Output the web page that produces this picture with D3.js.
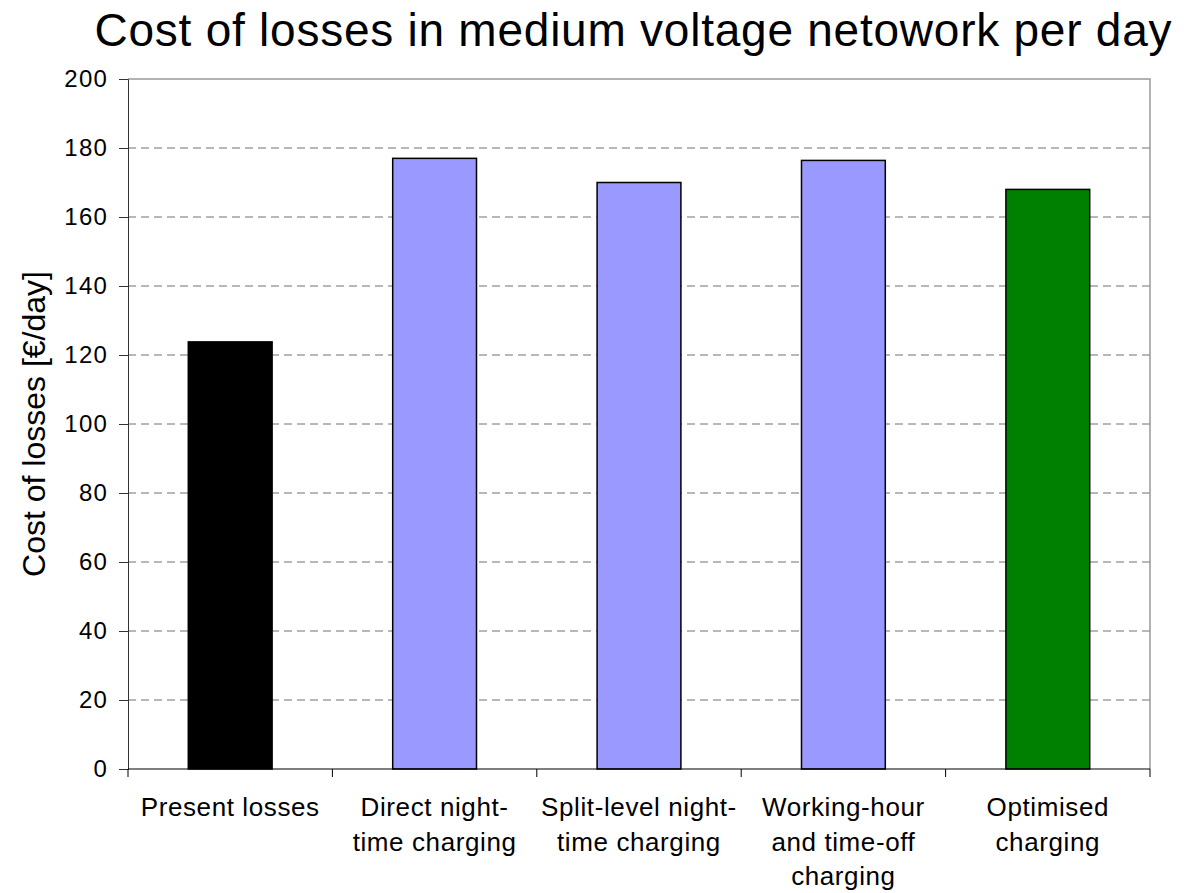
<!DOCTYPE html>
<html>
<head>
<meta charset="utf-8">
<script src="https://cdn.jsdelivr.net/npm/d3@7"></script>
<style>
  body { margin: 0; background: #fff; }
  svg { display: block; }
</style>
</head>
<body>
<div id="chart"></div>
<script>
// data
let categories = [
  ["Present losses"],
  ["Direct night-", "time charging"],
  ["Split-level night-", "time charging"],
  ["Working-hour", "and time-off", "charging"],
  ["Optimised", "charging"]
]
let costs = [123.8, 177.0, 170.0, 176.4, 168.0]
let barColors = ["#000000", "#9999ff", "#9999ff", "#9999ff", "#008000"]
let yTicks = [0, 20, 40, 60, 80, 100, 120, 140, 160, 180, 200]

let width = 1193
let height = 893
let plotLeft = 128, plotRight = 1150, plotTop = 79, plotBottom = 769

let svg = d3.select("#chart")
  .append("svg")
  .attr("width", width)
  .attr("height", height)

let xScale = d3.scaleBand()
  .domain(d3.range(categories.length))
  .range([plotLeft, plotRight])
  .paddingInner(0.59)
  .paddingOuter(0.295)

let yScale = d3.scaleLinear()
  .domain([0, 200])
  .range([plotBottom, plotTop])

// gridlines
svg.append("g")
  .selectAll("line")
  .data(yTicks.filter(d => d > 0 && d < 200))
  .enter()
  .append("line")
  .attr("x1", plotLeft)
  .attr("x2", plotRight)
  .attr("y1", d => yScale(d))
  .attr("y2", d => yScale(d))
  .attr("stroke", "#707070")
  .attr("stroke-width", 1)
  .attr("stroke-dasharray", "8,5")

// top + right border
svg.append("path")
  .attr("d", `M${plotLeft},${plotTop}H${plotRight}V${plotBottom}`)
  .attr("fill", "none")
  .attr("stroke", "#999")
  .attr("stroke-width", 1.5)

// bars
svg.append("g")
  .selectAll("rect")
  .data(costs)
  .enter()
  .append("rect")
  .attr("x", (d, i) => xScale(i))
  .attr("y", d => yScale(d))
  .attr("width", xScale.bandwidth())
  .attr("height", d => yScale(0) - yScale(d))
  .attr("fill", (d, i) => barColors[i])
  .attr("stroke", "#000")
  .attr("stroke-width", 1.5)

// y axis
let yAxis = d3.axisLeft(yScale)
  .tickValues(yTicks)
  .tickSize(9)
  .tickPadding(11)

let yg = svg.append("g")
  .attr("transform", `translate(${plotLeft},0)`)
  .call(yAxis)
yg.select(".domain").attr("stroke", "#333")
yg.selectAll(".tick line").attr("stroke", "#333")
yg.selectAll("text")
  .attr("font-family", "'Liberation Sans', Arial, sans-serif")
  .attr("font-size", 24)
  .attr("letter-spacing", 1.2)
  .attr("fill", "#000")

// x axis: ticks sit on the category boundaries
let boundaries = d3.range(categories.length + 1).map(i => plotLeft + i * xScale.step())
let xg = svg.append("g")
xg.append("line")
  .attr("x1", plotLeft).attr("x2", plotRight)
  .attr("y1", plotBottom).attr("y2", plotBottom)
  .attr("stroke", "#000")
  .attr("stroke-width", 1.2)
xg.selectAll(".xtick")
  .data(boundaries)
  .enter()
  .append("line")
  .attr("class", "xtick")
  .attr("x1", d => d).attr("x2", d => d)
  .attr("y1", plotBottom).attr("y2", plotBottom + 8)
  .attr("stroke", "#000")

let labels = xg.selectAll(".xlabel")
  .data(categories)
  .enter()
  .append("text")
  .attr("class", "xlabel")
  .attr("text-anchor", "middle")
  .attr("font-family", "'Liberation Sans', Arial, sans-serif")
  .attr("font-size", 26)
  .attr("letter-spacing", 0.6)
  .attr("fill", "#000")

labels.selectAll("tspan")
  .data((d, i) => d.map(line => ({line: line, i: i})))
  .enter()
  .append("tspan")
  .attr("x", d => xScale(d.i) + xScale.bandwidth() / 2)
  .attr("y", (d, j) => 816 + j * 34.5)
  .text(d => d.line)

// y axis title
svg.append("text")
  .attr("transform", `translate(45,${(plotTop + plotBottom) / 2}) rotate(-90)`)
  .attr("text-anchor", "middle")
  .attr("font-family", "'Liberation Sans', Arial, sans-serif")
  .attr("font-size", 32)
  .attr("fill", "#000")
  .text("Cost of losses [€/day]")

// chart title
svg.append("text")
  .attr("x", 633)
  .attr("y", 46)
  .attr("text-anchor", "middle")
  .attr("font-family", "'Liberation Sans', Arial, sans-serif")
  .attr("font-size", 46)
  .attr("textLength", 1077)
  .attr("lengthAdjust", "spacing")
  .attr("fill", "#000")
  .text("Cost of losses in medium voltage netowork per day")
</script>
</body>
</html>
